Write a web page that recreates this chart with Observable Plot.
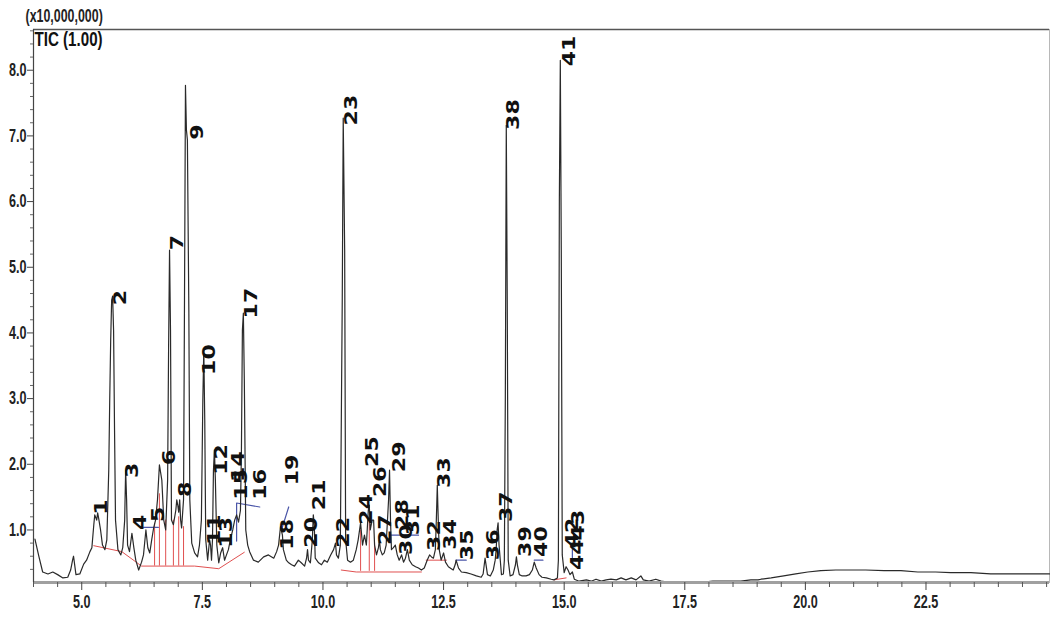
<!DOCTYPE html>
<html><head><meta charset="utf-8">
<script src="https://cdn.jsdelivr.net/npm/d3@7"></script>
<script src="https://cdn.jsdelivr.net/npm/@observablehq/plot@0.6"></script>
<style>
body{margin:0;background:#fff;}
#chart{width:1051px;height:621px;}
</style>
</head><body><div id="chart"></div>
<script>
// Retention time (min) and TIC intensity (x10,000,000)
const time = [4.03,4.11,4.19,4.30,4.40,4.50,4.61,4.71,4.77,4.81,4.83,4.88,4.96,5.04,5.10,5.17,5.21,5.25,5.27,5.31,5.33,5.35,5.39,5.43,5.48,5.52,5.56,5.58,5.60,5.62,5.64,5.66,5.68,5.70,5.75,5.81,5.85,5.89,5.91,5.93,5.95,5.99,6.04,6.08,6.12,6.18,6.24,6.28,6.33,6.37,6.41,6.45,6.49,6.53,6.57,6.61,6.66,6.70,6.74,6.78,6.80,6.82,6.84,6.86,6.90,6.95,6.97,6.99,7.01,7.03,7.05,7.07,7.11,7.13,7.15,7.17,7.19,7.22,7.24,7.28,7.34,7.40,7.44,7.48,7.51,7.53,7.55,7.57,7.61,7.65,7.67,7.69,7.71,7.73,7.75,7.77,7.80,7.84,7.88,7.92,7.96,8.00,8.04,8.08,8.13,8.17,8.21,8.25,8.29,8.31,8.33,8.35,8.37,8.40,8.44,8.48,8.56,8.66,8.77,8.87,8.98,9.04,9.08,9.12,9.16,9.18,9.24,9.29,9.35,9.41,9.49,9.55,9.62,9.66,9.68,9.70,9.74,9.78,9.80,9.82,9.84,9.91,9.97,10.03,10.09,10.16,10.22,10.26,10.28,10.32,10.36,10.40,10.42,10.45,10.47,10.51,10.57,10.63,10.69,10.73,10.78,10.82,10.86,10.90,10.94,10.96,10.98,11.02,11.05,11.07,11.11,11.15,11.17,11.19,11.23,11.27,11.31,11.36,11.38,11.40,11.42,11.46,11.50,11.54,11.58,11.63,11.67,11.71,11.75,11.79,11.85,11.92,11.98,12.04,12.10,12.16,12.21,12.25,12.29,12.33,12.35,12.37,12.39,12.41,12.45,12.50,12.54,12.60,12.66,12.70,12.74,12.76,12.81,12.87,12.97,13.07,13.18,13.28,13.32,13.36,13.41,13.47,13.53,13.57,13.59,13.61,13.63,13.65,13.70,13.74,13.76,13.78,13.80,13.82,13.84,13.88,13.94,13.99,14.01,14.03,14.07,14.13,14.21,14.28,14.34,14.38,14.42,14.48,14.54,14.63,14.73,14.79,14.86,14.88,14.90,14.92,14.94,14.96,15.00,15.04,15.08,15.12,15.17,15.21,15.31,15.46,15.56,15.66,15.77,15.87,15.97,16.08,16.18,16.28,16.39,16.49,16.59,16.64,16.76,16.90,17.01,17.11,17.32,17.63,17.94,18.08,18.35,18.66,18.87,19.02,19.08,19.29,19.55,19.80,20.05,20.32,20.63,20.94,21.25,21.63,21.98,22.33,22.70,23.01,23.43,23.84,24.40,24.77,25.06];
const signal = [0.86,0.60,0.36,0.33,0.36,0.32,0.27,0.28,0.39,0.54,0.60,0.32,0.33,0.48,0.54,0.67,0.73,1.08,1.23,1.15,1.26,1.18,1.00,0.77,0.70,0.85,1.91,2.98,3.89,4.50,4.56,4.04,2.52,1.15,0.70,0.62,0.73,1.15,1.91,1.46,0.77,0.67,0.95,0.73,0.54,0.39,0.51,0.62,1.00,0.73,0.65,0.85,1.03,1.15,1.46,1.99,1.76,1.15,1.00,1.76,3.74,5.26,4.04,1.15,1.08,1.30,1.46,1.38,1.27,1.46,1.15,1.03,1.46,4.50,7.77,7.09,6.94,4.35,1.46,0.80,0.65,0.59,0.77,1.15,2.98,3.74,2.67,0.85,0.54,0.85,0.77,0.54,0.85,1.91,2.22,1.76,0.77,0.50,0.65,0.73,0.54,0.62,0.70,0.85,1.00,1.15,1.23,1.12,1.30,2.22,4.04,4.30,3.28,1.00,0.77,0.67,0.54,0.51,0.59,0.62,0.57,0.67,0.77,1.05,0.92,0.70,0.54,0.50,0.47,0.45,0.54,0.50,0.45,0.57,0.70,0.54,0.50,0.85,1.23,1.08,0.57,0.50,0.47,0.54,0.51,0.62,0.70,0.80,0.62,0.57,0.77,4.50,7.27,5.26,0.85,0.54,0.51,0.54,0.70,0.85,1.11,0.77,0.92,0.77,1.30,1.38,1.00,1.15,1.15,0.77,0.62,0.73,0.85,0.70,0.62,0.65,0.77,1.46,1.91,1.15,0.70,0.73,0.77,0.62,0.54,0.62,0.51,0.57,0.70,0.54,0.47,0.44,0.42,0.39,0.42,0.54,0.62,0.59,0.57,0.70,1.15,1.68,1.15,0.70,0.54,0.65,0.51,0.44,0.41,0.39,0.47,0.54,0.42,0.36,0.35,0.33,0.30,0.28,0.33,0.57,0.32,0.30,0.39,0.54,0.70,1.00,1.11,0.77,0.32,0.33,0.54,2.98,7.16,4.50,0.54,0.30,0.32,0.47,0.59,0.47,0.32,0.30,0.30,0.32,0.39,0.51,0.42,0.32,0.28,0.27,0.25,0.24,0.27,0.54,6.02,8.15,5.26,0.62,0.35,0.44,0.39,0.32,0.36,0.25,0.22,0.24,0.22,0.25,0.22,0.24,0.25,0.24,0.27,0.24,0.27,0.24,0.30,0.24,0.22,0.25,0.22,0.21,0.21,0.21,0.21,0.22,0.22,0.22,0.24,0.24,0.25,0.27,0.30,0.33,0.36,0.38,0.39,0.39,0.39,0.38,0.38,0.36,0.36,0.35,0.35,0.33,0.33,0.33,0.33];

// Peak numbers and where their labels sit
const peakIds = ["1","2","3","4","5","6","7","8","9","10","11","12","13","14","15","16","17","18","19","20","21","22","23","24","25","26","27","28","29","30","31","32","33","34","35","36","37","38","39","40","41","42","43","44"];
const peakLabelTime = [5.41,5.81,6.06,6.22,6.59,6.82,6.99,7.15,7.40,7.65,7.75,7.90,8.00,8.25,8.31,8.71,8.52,9.26,9.37,9.76,9.93,10.42,10.59,10.90,11.02,11.19,11.29,11.65,11.58,11.73,11.87,12.31,12.52,12.64,12.99,13.53,13.80,13.96,14.19,14.54,15.12,15.17,15.29,15.27];
const peakLabelValue = [1.23,4.42,1.79,1.00,1.12,1.99,5.26,1.50,6.94,3.36,0.77,1.84,0.73,1.73,1.46,1.46,4.22,0.70,1.68,0.73,1.30,0.73,7.16,1.08,1.96,1.50,0.77,1.00,1.88,0.62,0.92,0.68,1.64,0.70,0.54,0.54,1.12,7.09,0.59,0.59,8.06,0.72,0.84,0.39];

// Integration baselines (red)
const baseSeg = [1,1,1,1,1,1,2,2,2,3,3,4,4];
const baseTime = [5.25,5.83,6.24,7.34,7.84,8.37,10.38,10.69,12.04,12.14,12.56,14.79,15.04];
const baseValue = [0.76,0.67,0.45,0.45,0.41,0.66,0.39,0.36,0.36,0.54,0.54,0.24,0.27];
const dropTime = [6.51,6.61,6.74,6.90,7.01,7.11,10.78,10.96,11.07];
const dropBase = [0.45,0.45,0.45,0.45,0.45,0.45,0.37,0.37,0.37];
const dropTop = [1.10,1.55,1.15,1.15,1.20,1.05,1.00,1.20,0.80];

// Label leader lines (blue)
const leadSeg = [1,1,2,2,2,3,3,4,4,5,5,6,6,7,7];
const leadTime = [6.28,6.59,8.21,8.21,8.69,9.14,9.29,11.40,11.98,12.76,12.97,14.38,14.56,15.17,15.17];
const leadValue = [1.04,1.04,0.83,1.41,1.35,1.00,1.35,0.92,0.92,0.54,0.54,0.54,0.54,0.58,0.80];

// Axis ticks
const xTicks = [5.0,7.5,10.0,12.5,15.0,17.5,20.0,22.5];
const yTicks = [1.0,2.0,3.0,4.0,5.0,6.0,7.0,8.0];
const xDomain = [4.0, 25.06];
const yDomain = [0.2, 8.62];

const trace = time.map((t,i)=>({t, v: signal[i]}));
const baselines = baseTime.map((t,i)=>({t, v: baseValue[i], s: baseSeg[i]}));
const leaders = leadTime.map((t,i)=>({t, v: leadValue[i], s: leadSeg[i]}));
const drops = dropTime.map((t,i)=>({t, b: dropBase[i], top: dropTop[i]}));
const labels = peakIds.map((id,i)=>({id, t: peakLabelTime[i], v: peakLabelValue[i]}));
const xMinor = d3.range(4.0, 25.01, 0.5).filter(d => !xTicks.some(m => Math.abs(m-d) < 1e-6));
const yMinor = d3.range(0.4, 8.61, 0.2).filter(d => !yTicks.some(m => Math.abs(m-d) < 1e-6));

const font = "'Liberation Sans',Arial,sans-serif";

const chart = Plot.plot({
  width: 1051,
  height: 621,
  marginLeft: 33,
  marginRight: 2,
  marginTop: 29,
  marginBottom: 39,
  style: {background: "#fff", fontFamily: font},
  x: {domain: xDomain, nice: false},
  y: {domain: yDomain, nice: false},
  marks: [
    Plot.frame({stroke: "#b8b8b8"}),
    Plot.ruleY([yDomain[1]], {stroke: "#555", strokeWidth: 1.5}),
    Plot.line(baselines, {x: "t", y: "v", z: "s", stroke: "#e05050", strokeWidth: 1}),
    Plot.ruleX(drops, {x: "t", y1: "b", y2: "top", stroke: "#e05050", strokeWidth: 1}),
    Plot.line(leaders, {x: "t", y: "v", z: "s", stroke: "#4a55a8", strokeWidth: 1.2}),
    Plot.line(trace, {x: "t", y: "v", stroke: "#2a2a2a", strokeWidth: 1.2}),
    Plot.ruleY([yDomain[0]], {stroke: "#a0a0a0", strokeWidth: 3}),
    Plot.ruleX([xDomain[0]], {stroke: "#444", strokeWidth: 1.2}),
    Plot.axisX({ticks: xTicks, tickSize: 8, tickPadding: 5, tickFormat: d => d.toFixed(1), fontSize: 18, fontWeight: "bold", fill: "#222", stroke: "#444", label: null}),
    Plot.axisX({ticks: xMinor, tickSize: 5, tickFormat: () => "", stroke: "#555", label: null}),
    Plot.axisY({ticks: yTicks, tickSize: 6, tickPadding: 1, tickFormat: d => d.toFixed(1), fontSize: 18, fontWeight: "bold", fill: "#222", stroke: "#444", label: null}),
    Plot.axisY({ticks: yMinor, tickSize: 3, tickFormat: () => "", stroke: "#666", label: null}),
    Plot.text(labels, {x: "t", y: "v", text: "id", rotate: -90, textAnchor: "start", lineAnchor: "middle",
      fontSize: 17, fontWeight: "bold", fontFamily: "'DejaVu Sans',sans-serif", fill: "#111"}),
    Plot.text(["(x10,000,000)"], {frameAnchor: "top-left", dx: -8, dy: -20, textAnchor: "start", lineAnchor: "top", fontSize: 18, fontWeight: "bold", fill: "#222"}),
    Plot.text(["TIC (1.00)"], {frameAnchor: "top-left", dx: 1, dy: 2, textAnchor: "start", lineAnchor: "top", fontSize: 21, fontWeight: "bold", fill: "#111"})
  ]
});
document.getElementById("chart").appendChild(chart);

// condense / stretch texts to match the instrument printout lettering
d3.select(chart).selectAll("text").each(function() {
  const s = (this.textContent || "").trim();
  let f = null;
  if (/^\d+\.\d$/.test(s)) f = 0.7;          // axis tick labels
  else if (/^\d+$/.test(s)) f = 1.3;         // peak numbers
  else if (s.startsWith("(x")) f = 0.69;     // multiplier note
  else if (s.startsWith("TIC")) f = 0.72;    // trace name
  if (f === null) return;
  const L = this.getComputedTextLength();
  if (!(L > 0)) return;
  this.setAttribute("textLength", (L * f).toFixed(1));
  this.setAttribute("lengthAdjust", "spacingAndGlyphs");
});
</script>
</body></html>
